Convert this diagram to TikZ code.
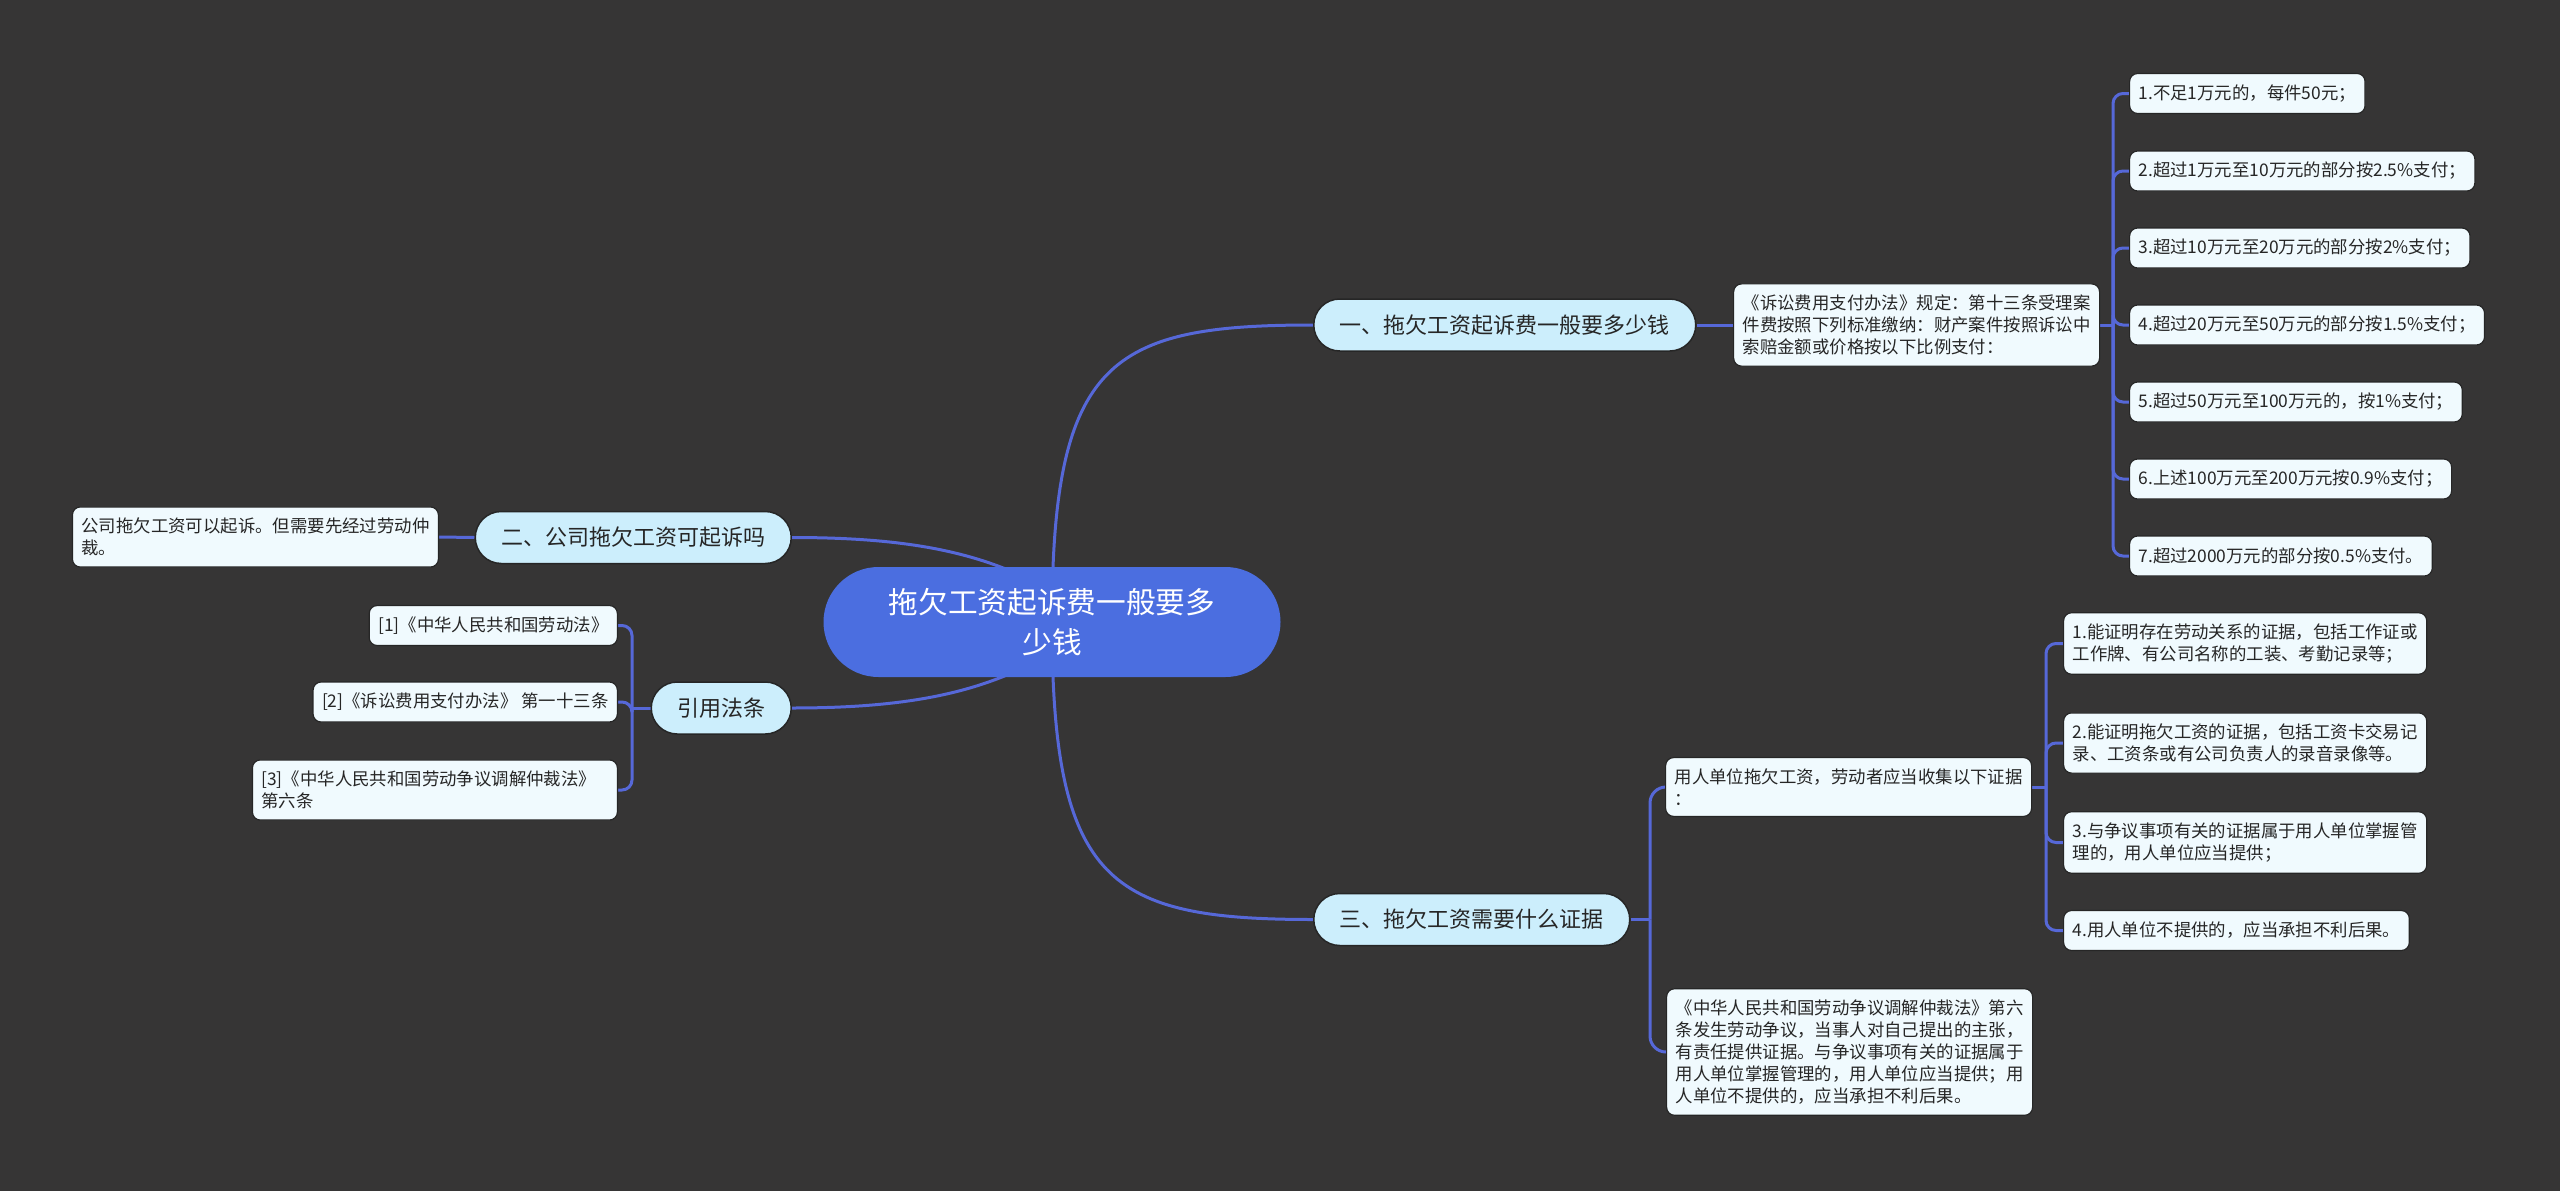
\documentclass[tikz,border=0pt]{standalone}
\usepackage{fontspec}
\setmainfont{Noto Sans CJK SC}
\definecolor{bgc}{HTML}{363535}
\definecolor{lineblue}{HTML}{5668D8}
\definecolor{rootblue}{HTML}{4B6EE0}
\definecolor{branchfill}{HTML}{CCEEFC}
\definecolor{leaffill}{HTML}{F0FAFE}
\definecolor{nodeborder}{HTML}{262626}
\definecolor{textdark}{HTML}{262626}
\pgfdeclarelayer{bg}
\pgfdeclarelayer{edges}
\pgfsetlayers{bg,edges,main}
\tikzset{
  conn/.style={draw=lineblue, line width=3pt},
  rootnode/.style={fill=rootblue, text=white, rounded corners=55pt, minimum width=457pt, minimum height=110pt, align=center, inner sep=0pt, font=\fontsize{29.7}{40}\selectfont},
  branch/.style={draw=nodeborder, line width=1.5pt, fill=branchfill, rounded corners=26pt, minimum height=52pt, inner xsep=26pt, inner ysep=0pt, text=textdark, font=\fontsize{22}{26}\selectfont},
  leaf/.style={draw=nodeborder, line width=1.2pt, fill=leaffill, rounded corners=8pt, inner xsep=9pt, inner ysep=11pt, minimum height=40pt, align=left, text=textdark, font=\fontsize{17.4}{22}\selectfont},
}
\begin{document}
\begin{tikzpicture}[x=1pt,y=-1pt]
\begin{pgfonlayer}{bg}
\fill[bgc] (0,0) rectangle (2560,1191);
\end{pgfonlayer}
\useasboundingbox (0,0) rectangle (2560,1191);

% root
\node[rootnode] (root) at (1052,622) {拖欠工资起诉费一般要多\\少钱};

% branch 1
\node[branch, anchor=west] (b1) at (1313,325) {一、拖欠工资起诉费一般要多少钱};
\node[leaf, anchor=west] (b1d) at (1733,325) {《诉讼费用支付办法》规定：第十三条受理案\\件费按照下列标准缴纳：财产案件按照诉讼中\\索赔金额或价格按以下比例支付：};
\node[leaf, anchor=west] (i1) at (2129,93.5) {1.不足1万元的，每件50元；};
\node[leaf, anchor=west] (i2) at (2129,171) {2.超过1万元至10万元的部分按2.5\%支付；};
\node[leaf, anchor=west] (i3) at (2129,248) {3.超过10万元至20万元的部分按2\%支付；};
\node[leaf, anchor=west] (i4) at (2129,325) {4.超过20万元至50万元的部分按1.5\%支付；};
\node[leaf, anchor=west] (i5) at (2129,402) {5.超过50万元至100万元的，按1\%支付；};
\node[leaf, anchor=west] (i6) at (2129,479) {6.上述100万元至200万元按0.9\%支付；};
\node[leaf, anchor=west] (i7) at (2129,556) {7.超过2000万元的部分按0.5\%支付。};

% branch 2
\node[branch, anchor=east] (b2) at (792,537.5) {二、公司拖欠工资可起诉吗};
\node[leaf, anchor=east] (b2d) at (439,537) {公司拖欠工资可以起诉。但需要先经过劳动仲\\裁。};

% references
\node[branch, anchor=east] (b4) at (792,708) {引用法条};
\node[leaf, anchor=east] (r1) at (618,625.5) {[1]《中华人民共和国劳动法》};
\node[leaf, anchor=east] (r2) at (618,702) {[2]《诉讼费用支付办法》 第一十三条};
\node[leaf, anchor=east, text width=347pt] (r3) at (618,790) {[3]《中华人民共和国劳动争议调解仲裁法》\\第六条};

% branch 3
\node[branch, anchor=west] (b3) at (1313,919.5) {三、拖欠工资需要什么证据};
\node[leaf, anchor=west] (b3a) at (1665,787) {用人单位拖欠工资，劳动者应当收集以下证据\\：};
\node[leaf, anchor=west] (b3b) at (1666,1052) {《中华人民共和国劳动争议调解仲裁法》第六\\条发生劳动争议，当事人对自己提出的主张，\\有责任提供证据。与争议事项有关的证据属于\\用人单位掌握管理的，用人单位应当提供；用\\人单位不提供的，应当承担不利后果。};
\node[leaf, anchor=west] (e1) at (2063,643.5) {1.能证明存在劳动关系的证据，包括工作证或\\工作牌、有公司名称的工装、考勤记录等；};
\node[leaf, anchor=west] (e2) at (2063,743) {2.能证明拖欠工资的证据，包括工资卡交易记\\录、工资条或有公司负责人的录音录像等。};
\node[leaf, anchor=west] (e3) at (2063,842.5) {3.与争议事项有关的证据属于用人单位掌握管\\理的，用人单位应当提供；};
\node[leaf, anchor=west] (e4) at (2063,930.5) {4.用人单位不提供的，应当承担不利后果。};

% junctions
\coordinate (j1) at (2113,325);
\coordinate (j3) at (1650,919.5);
\coordinate (j3a) at (2046,787);
\coordinate (j4) at (632,708);
\coordinate (c2) at (1040,585);
\coordinate (c4) at (1040,659);

\begin{pgfonlayer}{edges}
\draw[conn] (root.center) .. controls (1052,360) and (1110,325) .. (b1.west);
\draw[conn] (root.center) .. controls (1052,884) and (1110,919.5) .. (b3.west);
\draw[conn] (b2.east) .. controls (900,537.5) and (975,550) .. (c2);
\draw[conn] (b4.east) .. controls (900,708) and (975,695) .. (c4);
\draw[conn] (b1.east) -- (b1d.west);
\draw[conn] (b1d.east) -- (j1);
\foreach \n in {i1,i2,i3,i4,i5,i6,i7}{
  \draw[conn, rounded corners=10pt] (j1) |- (\n.west);
}
\draw[conn] (b2.west) -- (b2d.east);
\draw[conn] (b4.west) -- (j4);
\foreach \n in {r1,r2,r3}{
  \draw[conn, rounded corners=10pt] (j4) |- (\n.east);
}
\draw[conn] (b3.east) -- (j3);
\draw[conn, rounded corners=16pt] (j3) |- (b3a.west);
\draw[conn, rounded corners=16pt] (j3) |- (b3b.west);
\draw[conn] (b3a.east) -- (j3a);
\foreach \n in {e1,e2,e3,e4}{
  \draw[conn, rounded corners=10pt] (j3a) |- (\n.west);
}
\end{pgfonlayer}
\end{tikzpicture}
\end{document}
